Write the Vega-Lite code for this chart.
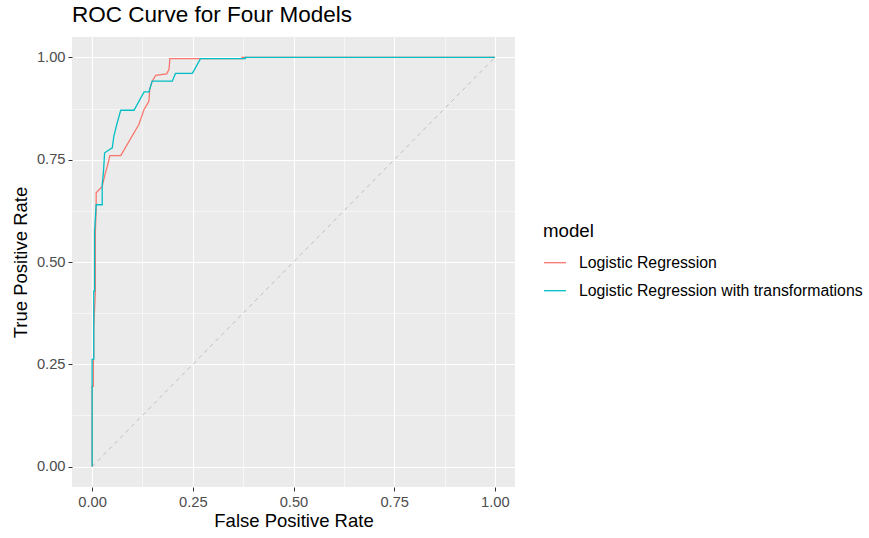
{
  "$schema": "https://vega.github.io/schema/vega-lite/v6.json",
  "width": 443,
  "height": 450,
  "autosize": {"type": "none"},
  "padding": {"left": 72, "top": 37, "right": 354, "bottom": 51},
  "background": "white",
  "config": {
    "font": "Liberation Sans",
    "view": {"fill": "#EBEBEB", "stroke": null}
  },
  "title": {
    "text": "ROC Curve for Four Models",
    "anchor": "start",
    "frame": "group",
    "fontSize": 22.5,
    "fontWeight": "normal",
    "color": "black",
    "offset": 11
  },
  "datasets": {
    "diag": [
      {"fpr": 0, "tpr": 0},
      {"fpr": 1, "tpr": 1}
    ],
    "roc": [
      {"model": "Logistic Regression", "i": 1, "fpr": 0, "tpr": 0},
      {"model": "Logistic Regression", "i": 2, "fpr": 0, "tpr": 0.196},
      {"model": "Logistic Regression", "i": 3, "fpr": 0.003, "tpr": 0.196},
      {"model": "Logistic Regression", "i": 4, "fpr": 0.003, "tpr": 0.257},
      {"model": "Logistic Regression", "i": 5, "fpr": 0.004, "tpr": 0.274},
      {"model": "Logistic Regression", "i": 6, "fpr": 0.004, "tpr": 0.339},
      {"model": "Logistic Regression", "i": 7, "fpr": 0.008, "tpr": 0.429},
      {"model": "Logistic Regression", "i": 8, "fpr": 0.008, "tpr": 0.575},
      {"model": "Logistic Regression", "i": 9, "fpr": 0.01, "tpr": 0.628},
      {"model": "Logistic Regression", "i": 10, "fpr": 0.01, "tpr": 0.669},
      {"model": "Logistic Regression", "i": 11, "fpr": 0.025, "tpr": 0.685},
      {"model": "Logistic Regression", "i": 12, "fpr": 0.029, "tpr": 0.702},
      {"model": "Logistic Regression", "i": 13, "fpr": 0.033, "tpr": 0.718},
      {"model": "Logistic Regression", "i": 14, "fpr": 0.038, "tpr": 0.735},
      {"model": "Logistic Regression", "i": 15, "fpr": 0.044, "tpr": 0.76},
      {"model": "Logistic Regression", "i": 16, "fpr": 0.071, "tpr": 0.76},
      {"model": "Logistic Regression", "i": 17, "fpr": 0.116, "tpr": 0.836},
      {"model": "Logistic Regression", "i": 18, "fpr": 0.129, "tpr": 0.873},
      {"model": "Logistic Regression", "i": 19, "fpr": 0.141, "tpr": 0.893},
      {"model": "Logistic Regression", "i": 20, "fpr": 0.143, "tpr": 0.922},
      {"model": "Logistic Regression", "i": 21, "fpr": 0.149, "tpr": 0.942},
      {"model": "Logistic Regression", "i": 22, "fpr": 0.158, "tpr": 0.956},
      {"model": "Logistic Regression", "i": 23, "fpr": 0.185, "tpr": 0.96},
      {"model": "Logistic Regression", "i": 24, "fpr": 0.191, "tpr": 0.971},
      {"model": "Logistic Regression", "i": 25, "fpr": 0.193, "tpr": 0.997},
      {"model": "Logistic Regression", "i": 26, "fpr": 0.372, "tpr": 0.997},
      {"model": "Logistic Regression", "i": 27, "fpr": 0.372, "tpr": 1.0},
      {"model": "Logistic Regression", "i": 28, "fpr": 1, "tpr": 1},
      {"model": "Logistic Regression with transformations", "i": 1, "fpr": 0, "tpr": 0},
      {"model": "Logistic Regression with transformations", "i": 2, "fpr": 0, "tpr": 0.262},
      {"model": "Logistic Regression with transformations", "i": 3, "fpr": 0.004, "tpr": 0.262},
      {"model": "Logistic Regression with transformations", "i": 4, "fpr": 0.004, "tpr": 0.429},
      {"model": "Logistic Regression with transformations", "i": 5, "fpr": 0.006, "tpr": 0.429},
      {"model": "Logistic Regression with transformations", "i": 6, "fpr": 0.006, "tpr": 0.575},
      {"model": "Logistic Regression with transformations", "i": 7, "fpr": 0.01, "tpr": 0.64},
      {"model": "Logistic Regression with transformations", "i": 8, "fpr": 0.025, "tpr": 0.64},
      {"model": "Logistic Regression with transformations", "i": 9, "fpr": 0.025, "tpr": 0.69},
      {"model": "Logistic Regression with transformations", "i": 10, "fpr": 0.028, "tpr": 0.718},
      {"model": "Logistic Regression with transformations", "i": 11, "fpr": 0.031, "tpr": 0.767},
      {"model": "Logistic Regression with transformations", "i": 12, "fpr": 0.05, "tpr": 0.779},
      {"model": "Logistic Regression with transformations", "i": 13, "fpr": 0.054, "tpr": 0.808},
      {"model": "Logistic Regression with transformations", "i": 14, "fpr": 0.061, "tpr": 0.836},
      {"model": "Logistic Regression with transformations", "i": 15, "fpr": 0.071, "tpr": 0.871},
      {"model": "Logistic Regression with transformations", "i": 16, "fpr": 0.104, "tpr": 0.871},
      {"model": "Logistic Regression with transformations", "i": 17, "fpr": 0.129, "tpr": 0.916},
      {"model": "Logistic Regression with transformations", "i": 18, "fpr": 0.141, "tpr": 0.916},
      {"model": "Logistic Regression with transformations", "i": 19, "fpr": 0.149, "tpr": 0.942},
      {"model": "Logistic Regression with transformations", "i": 20, "fpr": 0.199, "tpr": 0.942},
      {"model": "Logistic Regression with transformations", "i": 21, "fpr": 0.207, "tpr": 0.961},
      {"model": "Logistic Regression with transformations", "i": 22, "fpr": 0.249, "tpr": 0.961},
      {"model": "Logistic Regression with transformations", "i": 23, "fpr": 0.269, "tpr": 0.997},
      {"model": "Logistic Regression with transformations", "i": 24, "fpr": 0.38, "tpr": 0.997},
      {"model": "Logistic Regression with transformations", "i": 25, "fpr": 0.38, "tpr": 1.0},
      {"model": "Logistic Regression with transformations", "i": 26, "fpr": 1, "tpr": 1}
    ]
  },
  "layer": [
    {
      "data": {"name": "diag"},
      "mark": {"type": "line", "color": "#BEBEBE", "strokeDash": [4, 4], "strokeWidth": 1},
      "encoding": {
        "x": {
          "field": "fpr", "type": "quantitative",
          "scale": {"domain": [-0.05, 1.05], "nice": false, "zero": false},
          "axis": {
            "orient": "top",
            "values": [0.125, 0.375, 0.625, 0.875],
            "grid": true, "gridColor": "white", "gridWidth": 0.55,
            "labels": false, "ticks": false, "domain": false, "title": null
          }
        },
        "y": {
          "field": "tpr", "type": "quantitative",
          "scale": {"domain": [-0.05, 1.05], "nice": false, "zero": false},
          "axis": {
            "orient": "right",
            "values": [0.125, 0.375, 0.625, 0.875],
            "grid": true, "gridColor": "white", "gridWidth": 0.55,
            "labels": false, "ticks": false, "domain": false, "title": null
          }
        }
      }
    },
    {
      "data": {"name": "roc"},
      "mark": {"type": "line", "strokeWidth": 1.3},
      "encoding": {
        "x": {
          "field": "fpr", "type": "quantitative",
          "title": "False Positive Rate",
          "scale": {"domain": [-0.05, 1.05], "nice": false, "zero": false},
          "axis": {
            "orient": "bottom",
            "values": [0, 0.25, 0.5, 0.75, 1],
            "format": ".2f",
            "grid": true, "gridColor": "white", "gridWidth": 1.1,
            "domain": false,
            "tickColor": "#333333", "tickSize": 4, "tickWidth": 1,
            "labelColor": "#4D4D4D", "labelFontSize": 14.7, "labelPadding": 3,
            "titleColor": "black", "titleFontSize": 18.5, "titleFontWeight": "normal", "titlePadding": 3
          }
        },
        "y": {
          "field": "tpr", "type": "quantitative",
          "title": "True Positive Rate",
          "scale": {"domain": [-0.05, 1.05], "nice": false, "zero": false},
          "axis": {
            "orient": "left",
            "values": [0, 0.25, 0.5, 0.75, 1],
            "format": ".2f",
            "grid": true, "gridColor": "white", "gridWidth": 1.1,
            "domain": false,
            "tickColor": "#333333", "tickSize": 4, "tickWidth": 1,
            "labelColor": "#4D4D4D", "labelFontSize": 14.7, "labelPadding": 3,
            "titleColor": "black", "titleFontSize": 18.5, "titleFontWeight": "normal", "titlePadding": 6
          }
        },
        "order": {"field": "i", "type": "quantitative"},
        "color": {
          "field": "model", "type": "nominal",
          "scale": {
            "domain": ["Logistic Regression", "Logistic Regression with transformations"],
            "range": ["#F8766D", "#00BFC4"]
          },
          "legend": {
            "orient": "none",
            "legendX": 471,
            "legendY": 185,
            "title": "model",
            "titleFontSize": 18.7,
            "titleFontWeight": "normal",
            "titleColor": "black",
            "titlePadding": 10,
            "labelFontSize": 15.8,
            "labelColor": "black",
            "labelLimit": 0,
            "labelOffset": 12,
            "symbolType": "stroke",
            "symbolSize": 484,
            "symbolStrokeWidth": 1.3,
            "rowPadding": 8
          }
        }
      }
    }
  ],
  "resolve": {"axis": {"x": "independent", "y": "independent"}}
}
